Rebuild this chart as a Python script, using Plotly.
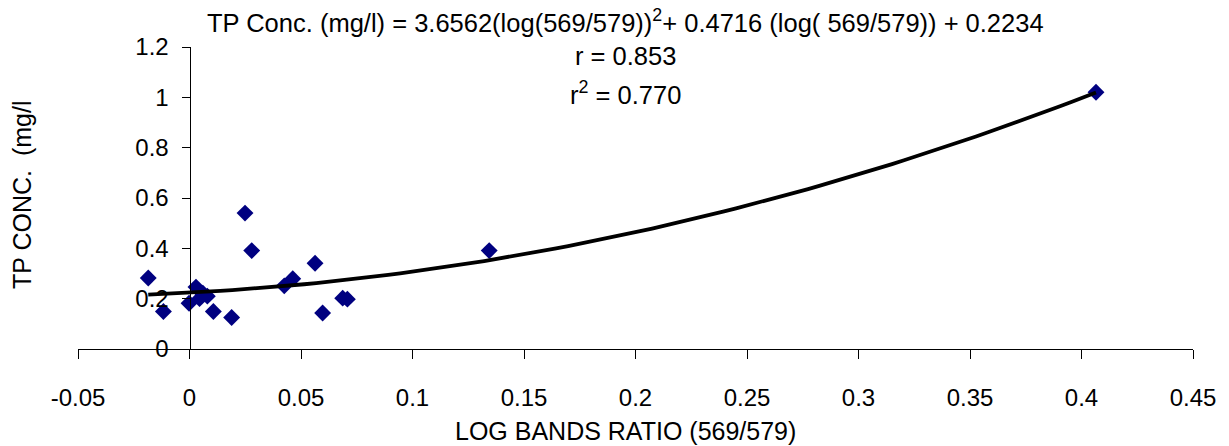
import numpy as np
import plotly.graph_objects as go

# Observed data (log band ratio 569/579 vs TP concentration)
log_ratio = [-0.0185, -0.0117, -0.0002, 0.0029, 0.0060, 0.0080, 0.0045, 0.0107, 0.0189,
             0.0249, 0.0279, 0.0425, 0.0463, 0.0563, 0.0597, 0.0687, 0.0708, 0.1344, 0.4065]
tp_conc = [0.282, 0.149, 0.182, 0.246, 0.222, 0.210, 0.200, 0.149, 0.125,
           0.540, 0.391, 0.251, 0.279, 0.341, 0.143, 0.202, 0.198, 0.391, 1.020]

# Trendline coefficients as stated in the chart equation (a*x^2 + b*x + c)
trend_coef = [3.6562, 0.4716, 0.2234]

x_tick_vals = [-0.05, 0, 0.05, 0.1, 0.15, 0.2, 0.25, 0.3, 0.35, 0.4, 0.45]
x_tick_text = ["-0.05", "0", "0.05", "0.1", "0.15", "0.2", "0.25", "0.3", "0.35", "0.4", "0.45"]
y_tick_vals = [0, 0.2, 0.4, 0.6, 0.8, 1.0, 1.2]
y_tick_text = ["0", "0.2", "0.4", "0.6", "0.8", "1", "1.2"]

xt = np.linspace(min(log_ratio), max(log_ratio), 80)
yt = np.polyval(trend_coef, xt)

FONT = "Liberation Sans, Arial, sans-serif"
FS = 24

fig = go.Figure()
fig.add_trace(go.Scatter(x=log_ratio, y=tp_conc, mode="markers",
                         marker=dict(symbol="diamond", size=13, color="#000080",
                                     line=dict(width=0)),
                         showlegend=False, cliponaxis=False))
fig.add_trace(go.Scatter(x=xt, y=yt, mode="lines",
                         line=dict(color="black", width=3.8),
                         showlegend=False, cliponaxis=False))

fig.update_layout(
    width=1229, height=446,
    margin=dict(l=78, r=36, t=47, b=97),
    paper_bgcolor="white", plot_bgcolor="white",
    font=dict(family=FONT, size=FS, color="black"),
    xaxis=dict(range=[-0.05, 0.45], tickvals=x_tick_vals, ticktext=x_tick_text,
               showgrid=False, zeroline=False, showline=True, linecolor="black",
               linewidth=1, ticks="outside", ticklen=9, tickcolor="black",
               ticklabelstandoff=18, domain=[0, 1]),
    yaxis=dict(range=[0, 1.2], tickvals=y_tick_vals, ticktext=y_tick_text,
               showgrid=False, zeroline=False, showline=True, linecolor="black",
               linewidth=1, ticks="outside", ticklen=8, tickcolor="black",
               ticklabelstandoff=8, anchor="free", position=0.1),
)

ann = [
    dict(text="TP Conc. (mg/l) = 3.6562(log(569/579))<sup>2</sup>+ 0.4716 (log( 569/579)) + 0.2234",
         x=0.4906, y=1.085, size=25.5),
    dict(text="r = 0.853", x=0.4906, y=0.969, size=25.5),
    dict(text="r<sup>2</sup> = 0.770", x=0.4906, y=0.849, size=25.5),
    dict(text="LOG BANDS RATIO (569/579)", x=0.4906, y=-0.273, size=25),
]
for a in ann:
    sz = a.pop("size")
    fig.add_annotation(xref="paper", yref="paper", showarrow=False,
                       xanchor="center", yanchor="middle",
                       font=dict(family=FONT, size=sz, color="black"), **a)
fig.add_annotation(text="TP CONC.  (mg/l", xref="paper", yref="paper",
                   x=-0.0502, y=0.51, textangle=-90, showarrow=False,
                   xanchor="center", yanchor="middle",
                   font=dict(family=FONT, size=25, color="black"))

fig.write_html("out.html")
